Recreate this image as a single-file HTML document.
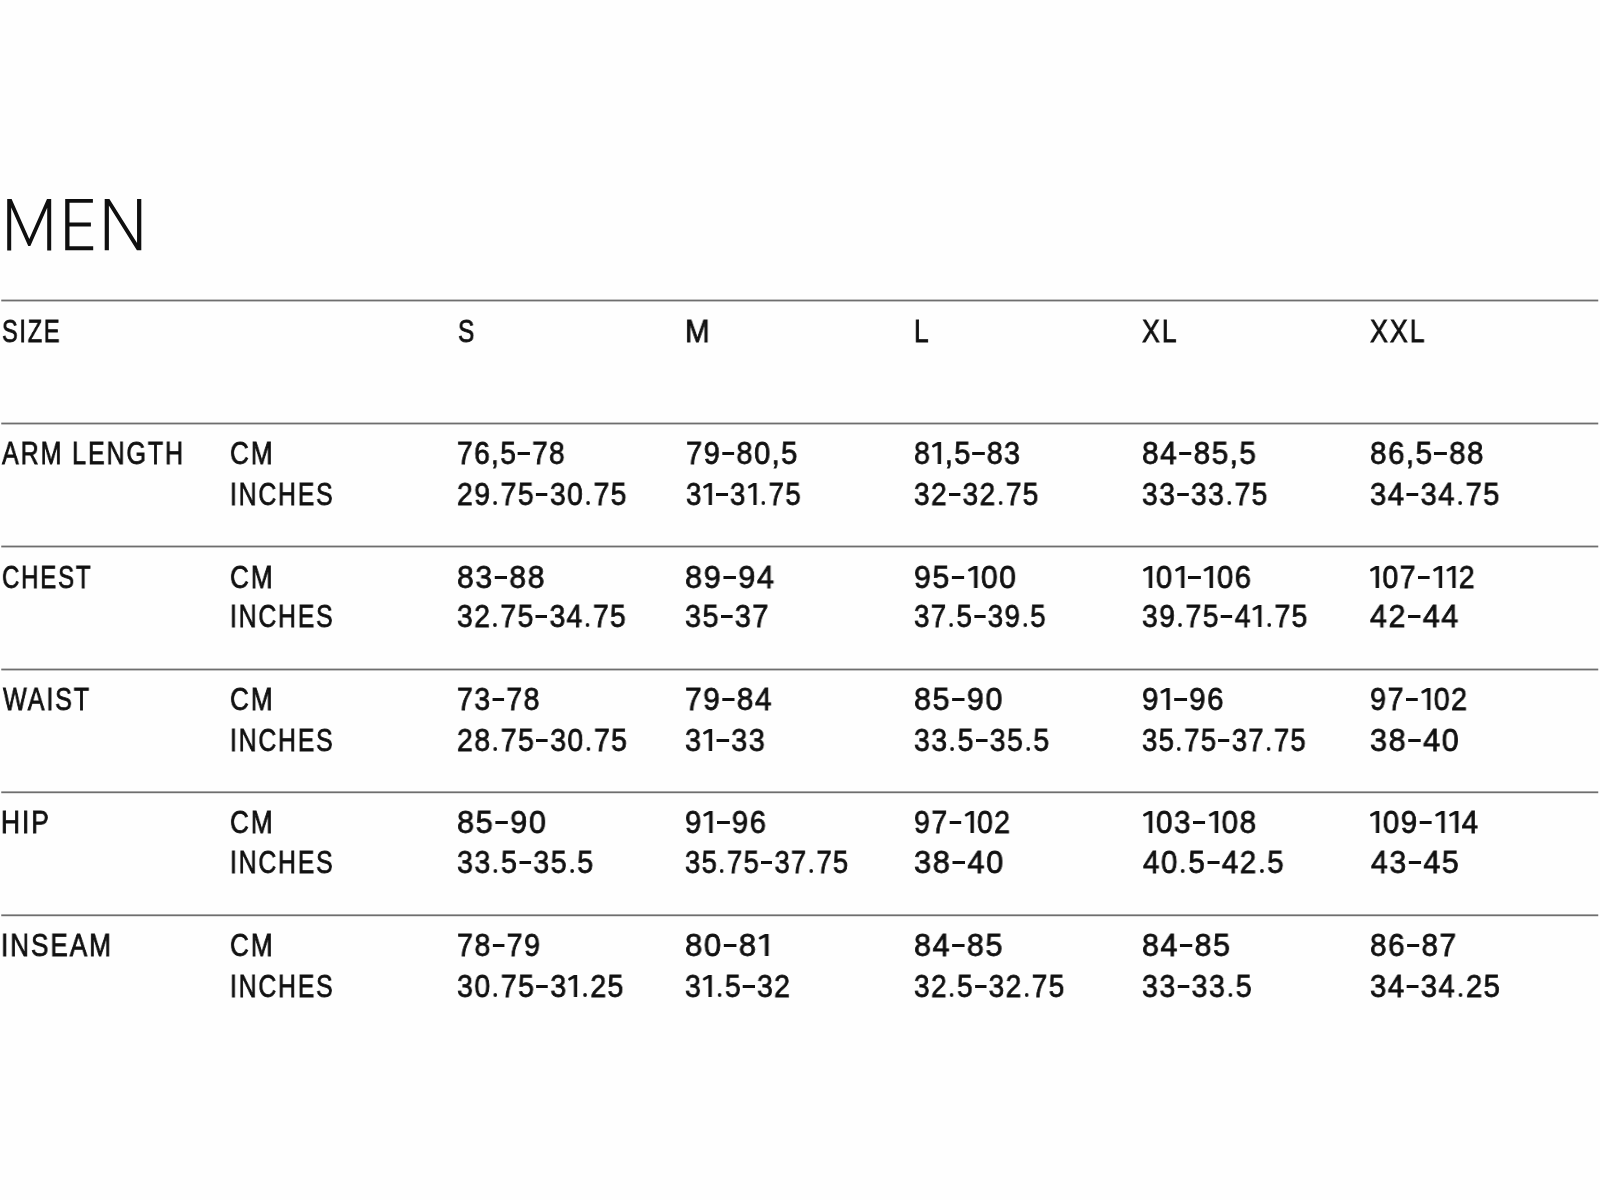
<!DOCTYPE html>
<html><head><meta charset="utf-8"><title>Men size chart</title><style>
html,body{margin:0;padding:0;background:#fefefe;width:1600px;height:1200px;overflow:hidden}
body{position:relative}
.t{position:absolute;white-space:nowrap;font-family:"Liberation Sans",sans-serif;font-size:32px;line-height:32px;color:#111;transform-origin:0 0;-webkit-text-stroke:0.8px currentColor;will-change:transform}
.d{display:inline-block;width:13.6px;height:3px;background:currentColor;margin:0 2.4px 0 0.8px;vertical-align:9.2px}
.o{display:inline-block;width:15.1px;height:22.6px;vertical-align:-0.4px}.o svg{display:block;fill:currentColor}.p{display:inline-block;position:relative;width:10.5px;height:4px;vertical-align:-0.3px}.p::before{content:'';position:absolute;left:2.3px;top:0;width:4.3px;height:4.1px;border-radius:50%;background:currentColor}
.a{letter-spacing:2.4px}.n{letter-spacing:1.6px}
</style></head><body>
<svg width="1600" height="1200" viewBox="0 0 1600 1200" style="position:absolute;left:0;top:0"><g fill="#0f0f0f"><polygon points="7.2,250.4 7.2,198.9 11.6,198.9 29.3,238.9 47.0,198.9 51.2,198.9 51.2,250.4 47.2,250.4 47.2,207.8 30.35,245.9 28.25,245.9 11.2,207.4 11.2,250.4"/><polygon points="65.2,250.2 65.2,198.9 92.9,198.9 92.9,202.8 69.5,202.8 69.5,222.4 90.9,222.4 90.9,226.4 69.5,226.4 69.5,246.2 93.2,246.2 93.2,250.2"/><polygon points="104.7,250.2 104.7,198.9 109.4,198.9 137.05,243.0 137.05,198.9 141.3,198.9 141.3,250.2 136.9,250.2 108.9,205.6 108.9,250.2"/></g><g fill="#6e6e6e"><rect x="1.25" y="299.60" width="1597" height="1.8"/><rect x="1.25" y="422.60" width="1597" height="1.8"/><rect x="1.25" y="545.60" width="1597" height="1.8"/><rect x="1.25" y="668.60" width="1597" height="1.8"/><rect x="1.25" y="791.40" width="1597" height="1.8"/><rect x="1.25" y="914.40" width="1597" height="1.8"/></g></svg>
<div class="t a" style="left:2.39px;top:314.74px;transform:scaleX(0.7349)">SIZE</div>
<div class="t a" style="left:458.11px;top:314.74px;transform:scaleX(0.7659)">S</div>
<div class="t a" style="left:685.01px;top:314.74px;transform:scaleX(0.9243)">M</div>
<div class="t a" style="left:913.82px;top:314.74px;transform:scaleX(0.8277)">L</div>
<div class="t a" style="left:1141.93px;top:314.74px;transform:scaleX(0.8328)">XL</div>
<div class="t a" style="left:1370.13px;top:314.74px;transform:scaleX(0.8356)">XXL</div>
<div class="t a" style="left:2.07px;top:436.79px;transform:scaleX(0.7830)">ARM LENGTH</div>
<div class="t a" style="left:230.05px;top:436.79px;transform:scaleX(0.8163)">CM</div>
<div class="t a" style="left:229.64px;top:478.19px;transform:scaleX(0.7728)">INCHES</div>
<div class="t n" style="left:456.97px;top:436.79px;transform:scaleX(0.8781)">76,5<span class="d"></span>78</div>
<div class="t n" style="left:456.99px;top:478.19px;transform:scaleX(0.8855)">29<span class="p"></span>75<span class="d"></span>30<span class="p"></span>75</div>
<div class="t n" style="left:685.84px;top:436.79px;transform:scaleX(0.9078)">79<span class="d"></span>80,5</div>
<div class="t n" style="left:686.12px;top:478.19px;transform:scaleX(0.8587)">3<span class="o"><svg width="15.1" height="22.6" viewBox="0 0 15.1 22.6"><polygon points="7.45,3.3 2.4,5.8 1.0,4.4 1.54,3.1 7.45,0 11.2,0 11.2,22.6 7.45,22.6"/></svg></span><span class="d"></span>3<span class="o"><svg width="15.1" height="22.6" viewBox="0 0 15.1 22.6"><polygon points="7.45,3.3 2.4,5.8 1.0,4.4 1.54,3.1 7.45,0 11.2,0 11.2,22.6 7.45,22.6"/></svg></span><span class="p"></span>75</div>
<div class="t n" style="left:914.02px;top:436.79px;transform:scaleX(0.8956)">8<span class="o"><svg width="15.1" height="22.6" viewBox="0 0 15.1 22.6"><polygon points="7.45,3.3 2.4,5.8 1.0,4.4 1.54,3.1 7.45,0 11.2,0 11.2,22.6 7.45,22.6"/></svg></span>,5<span class="d"></span>83</div>
<div class="t n" style="left:914.21px;top:478.19px;transform:scaleX(0.8748)">32<span class="d"></span>32<span class="p"></span>75</div>
<div class="t n" style="left:1141.98px;top:436.79px;transform:scaleX(0.9293)">84<span class="d"></span>85,5</div>
<div class="t n" style="left:1142.20px;top:478.19px;transform:scaleX(0.8819)">33<span class="d"></span>33<span class="p"></span>75</div>
<div class="t n" style="left:1369.98px;top:436.79px;transform:scaleX(0.9257)">86,5<span class="d"></span>88</div>
<div class="t n" style="left:1370.18px;top:478.19px;transform:scaleX(0.9105)">34<span class="d"></span>34<span class="p"></span>75</div>
<div class="t a" style="left:1.63px;top:560.59px;transform:scaleX(0.7503)">CHEST</div>
<div class="t a" style="left:230.05px;top:560.59px;transform:scaleX(0.8163)">CM</div>
<div class="t a" style="left:229.64px;top:600.39px;transform:scaleX(0.7728)">INCHES</div>
<div class="t n" style="left:456.97px;top:560.59px;transform:scaleX(0.9424)">83<span class="d"></span>88</div>
<div class="t n" style="left:457.20px;top:600.39px;transform:scaleX(0.8817)">32<span class="p"></span>75<span class="d"></span>34<span class="p"></span>75</div>
<div class="t n" style="left:684.95px;top:560.59px;transform:scaleX(0.9598)">89<span class="d"></span>94</div>
<div class="t n" style="left:685.19px;top:600.39px;transform:scaleX(0.8981)">35<span class="d"></span>37</div>
<div class="t n" style="left:913.94px;top:560.59px;transform:scaleX(0.9455)">95<span class="d"></span><span class="o"><svg width="15.1" height="22.6" viewBox="0 0 15.1 22.6"><polygon points="7.45,3.3 2.4,5.8 1.0,4.4 1.54,3.1 7.45,0 11.2,0 11.2,22.6 7.45,22.6"/></svg></span>00</div>
<div class="t n" style="left:914.22px;top:600.39px;transform:scaleX(0.8626)">37<span class="p"></span>5<span class="d"></span>39<span class="p"></span>5</div>
<div class="t n" style="left:1141.94px;top:560.59px;transform:scaleX(0.9194)"><span class="o"><svg width="15.1" height="22.6" viewBox="0 0 15.1 22.6"><polygon points="7.45,3.3 2.4,5.8 1.0,4.4 1.54,3.1 7.45,0 11.2,0 11.2,22.6 7.45,22.6"/></svg></span>0<span class="o"><svg width="15.1" height="22.6" viewBox="0 0 15.1 22.6"><polygon points="7.45,3.3 2.4,5.8 1.0,4.4 1.54,3.1 7.45,0 11.2,0 11.2,22.6 7.45,22.6"/></svg></span><span class="d"></span><span class="o"><svg width="15.1" height="22.6" viewBox="0 0 15.1 22.6"><polygon points="7.45,3.3 2.4,5.8 1.0,4.4 1.54,3.1 7.45,0 11.2,0 11.2,22.6 7.45,22.6"/></svg></span>06</div>
<div class="t n" style="left:1142.20px;top:600.39px;transform:scaleX(0.8836)">39<span class="p"></span>75<span class="d"></span>4<span class="o"><svg width="15.1" height="22.6" viewBox="0 0 15.1 22.6"><polygon points="7.45,3.3 2.4,5.8 1.0,4.4 1.54,3.1 7.45,0 11.2,0 11.2,22.6 7.45,22.6"/></svg></span><span class="p"></span>75</div>
<div class="t n" style="left:1368.98px;top:560.59px;transform:scaleX(0.8908)"><span class="o"><svg width="15.1" height="22.6" viewBox="0 0 15.1 22.6"><polygon points="7.45,3.3 2.4,5.8 1.0,4.4 1.54,3.1 7.45,0 11.2,0 11.2,22.6 7.45,22.6"/></svg></span>07<span class="d"></span><span class="o"><svg width="15.1" height="22.6" viewBox="0 0 15.1 22.6"><polygon points="7.45,3.3 2.4,5.8 1.0,4.4 1.54,3.1 7.45,0 11.2,0 11.2,22.6 7.45,22.6"/></svg></span><span class="o"><svg width="15.1" height="22.6" viewBox="0 0 15.1 22.6"><polygon points="7.45,3.3 2.4,5.8 1.0,4.4 1.54,3.1 7.45,0 11.2,0 11.2,22.6 7.45,22.6"/></svg></span>2</div>
<div class="t n" style="left:1369.75px;top:600.39px;transform:scaleX(0.9511)">42<span class="d"></span>44</div>
<div class="t a" style="left:3.13px;top:683.19px;transform:scaleX(0.7843)">WAIST</div>
<div class="t a" style="left:230.05px;top:683.19px;transform:scaleX(0.8163)">CM</div>
<div class="t a" style="left:229.64px;top:723.59px;transform:scaleX(0.7728)">INCHES</div>
<div class="t n" style="left:456.96px;top:683.19px;transform:scaleX(0.8880)">73<span class="d"></span>78</div>
<div class="t n" style="left:456.98px;top:723.59px;transform:scaleX(0.8881)">28<span class="p"></span>75<span class="d"></span>30<span class="p"></span>75</div>
<div class="t n" style="left:684.91px;top:683.19px;transform:scaleX(0.9331)">79<span class="d"></span>84</div>
<div class="t n" style="left:685.18px;top:723.59px;transform:scaleX(0.9008)">3<span class="o"><svg width="15.1" height="22.6" viewBox="0 0 15.1 22.6"><polygon points="7.45,3.3 2.4,5.8 1.0,4.4 1.54,3.1 7.45,0 11.2,0 11.2,22.6 7.45,22.6"/></svg></span><span class="d"></span>33</div>
<div class="t n" style="left:913.95px;top:683.19px;transform:scaleX(0.9528)">85<span class="d"></span>90</div>
<div class="t n" style="left:914.20px;top:723.59px;transform:scaleX(0.8858)">33<span class="p"></span>5<span class="d"></span>35<span class="p"></span>5</div>
<div class="t n" style="left:1141.97px;top:683.19px;transform:scaleX(0.9201)">9<span class="o"><svg width="15.1" height="22.6" viewBox="0 0 15.1 22.6"><polygon points="7.45,3.3 2.4,5.8 1.0,4.4 1.54,3.1 7.45,0 11.2,0 11.2,22.6 7.45,22.6"/></svg></span><span class="d"></span>96</div>
<div class="t n" style="left:1142.23px;top:723.59px;transform:scaleX(0.8553)">35<span class="p"></span>75<span class="d"></span>37<span class="p"></span>75</div>
<div class="t n" style="left:1369.99px;top:683.19px;transform:scaleX(0.9002)">97<span class="d"></span><span class="o"><svg width="15.1" height="22.6" viewBox="0 0 15.1 22.6"><polygon points="7.45,3.3 2.4,5.8 1.0,4.4 1.54,3.1 7.45,0 11.2,0 11.2,22.6 7.45,22.6"/></svg></span>02</div>
<div class="t n" style="left:1370.13px;top:723.59px;transform:scaleX(0.9562)">38<span class="d"></span>40</div>
<div class="t a" style="left:1.23px;top:806.39px;transform:scaleX(0.8229)">HIP</div>
<div class="t a" style="left:230.05px;top:806.39px;transform:scaleX(0.8163)">CM</div>
<div class="t a" style="left:229.64px;top:846.39px;transform:scaleX(0.7728)">INCHES</div>
<div class="t n" style="left:456.95px;top:806.39px;transform:scaleX(0.9583)">85<span class="d"></span>90</div>
<div class="t n" style="left:457.19px;top:846.39px;transform:scaleX(0.8924)">33<span class="p"></span>5<span class="d"></span>35<span class="p"></span>5</div>
<div class="t n" style="left:684.97px;top:806.39px;transform:scaleX(0.9143)">9<span class="o"><svg width="15.1" height="22.6" viewBox="0 0 15.1 22.6"><polygon points="7.45,3.3 2.4,5.8 1.0,4.4 1.54,3.1 7.45,0 11.2,0 11.2,22.6 7.45,22.6"/></svg></span><span class="d"></span>96</div>
<div class="t n" style="left:685.23px;top:846.39px;transform:scaleX(0.8527)">35<span class="p"></span>75<span class="d"></span>37<span class="p"></span>75</div>
<div class="t n" style="left:914.00px;top:806.39px;transform:scaleX(0.8907)">97<span class="d"></span><span class="o"><svg width="15.1" height="22.6" viewBox="0 0 15.1 22.6"><polygon points="7.45,3.3 2.4,5.8 1.0,4.4 1.54,3.1 7.45,0 11.2,0 11.2,22.6 7.45,22.6"/></svg></span>02</div>
<div class="t n" style="left:914.13px;top:846.39px;transform:scaleX(0.9617)">38<span class="d"></span>40</div>
<div class="t n" style="left:1141.93px;top:806.39px;transform:scaleX(0.9275)"><span class="o"><svg width="15.1" height="22.6" viewBox="0 0 15.1 22.6"><polygon points="7.45,3.3 2.4,5.8 1.0,4.4 1.54,3.1 7.45,0 11.2,0 11.2,22.6 7.45,22.6"/></svg></span>03<span class="d"></span><span class="o"><svg width="15.1" height="22.6" viewBox="0 0 15.1 22.6"><polygon points="7.45,3.3 2.4,5.8 1.0,4.4 1.54,3.1 7.45,0 11.2,0 11.2,22.6 7.45,22.6"/></svg></span>08</div>
<div class="t n" style="left:1142.76px;top:846.39px;transform:scaleX(0.9217)">40<span class="p"></span>5<span class="d"></span>42<span class="p"></span>5</div>
<div class="t n" style="left:1368.94px;top:806.39px;transform:scaleX(0.9204)"><span class="o"><svg width="15.1" height="22.6" viewBox="0 0 15.1 22.6"><polygon points="7.45,3.3 2.4,5.8 1.0,4.4 1.54,3.1 7.45,0 11.2,0 11.2,22.6 7.45,22.6"/></svg></span>09<span class="d"></span><span class="o"><svg width="15.1" height="22.6" viewBox="0 0 15.1 22.6"><polygon points="7.45,3.3 2.4,5.8 1.0,4.4 1.54,3.1 7.45,0 11.2,0 11.2,22.6 7.45,22.6"/></svg></span><span class="o"><svg width="15.1" height="22.6" viewBox="0 0 15.1 22.6"><polygon points="7.45,3.3 2.4,5.8 1.0,4.4 1.54,3.1 7.45,0 11.2,0 11.2,22.6 7.45,22.6"/></svg></span>4</div>
<div class="t n" style="left:1370.75px;top:846.39px;transform:scaleX(0.9442)">43<span class="d"></span>45</div>
<div class="t a" style="left:0.93px;top:928.79px;transform:scaleX(0.8160)">INSEAM</div>
<div class="t a" style="left:230.05px;top:928.79px;transform:scaleX(0.8163)">CM</div>
<div class="t a" style="left:229.64px;top:969.59px;transform:scaleX(0.7728)">INCHES</div>
<div class="t n" style="left:456.95px;top:928.79px;transform:scaleX(0.8945)">78<span class="d"></span>79</div>
<div class="t n" style="left:457.19px;top:969.59px;transform:scaleX(0.8890)">30<span class="p"></span>75<span class="d"></span>3<span class="o"><svg width="15.1" height="22.6" viewBox="0 0 15.1 22.6"><polygon points="7.45,3.3 2.4,5.8 1.0,4.4 1.54,3.1 7.45,0 11.2,0 11.2,22.6 7.45,22.6"/></svg></span><span class="p"></span>25</div>
<div class="t n" style="left:684.94px;top:928.79px;transform:scaleX(0.9695)">80<span class="d"></span>8<span class="o"><svg width="15.1" height="22.6" viewBox="0 0 15.1 22.6"><polygon points="7.45,3.3 2.4,5.8 1.0,4.4 1.54,3.1 7.45,0 11.2,0 11.2,22.6 7.45,22.6"/></svg></span></div>
<div class="t n" style="left:685.20px;top:969.59px;transform:scaleX(0.8866)">3<span class="o"><svg width="15.1" height="22.6" viewBox="0 0 15.1 22.6"><polygon points="7.45,3.3 2.4,5.8 1.0,4.4 1.54,3.1 7.45,0 11.2,0 11.2,22.6 7.45,22.6"/></svg></span><span class="p"></span>5<span class="d"></span>32</div>
<div class="t n" style="left:913.95px;top:928.79px;transform:scaleX(0.9529)">84<span class="d"></span>85</div>
<div class="t n" style="left:914.21px;top:969.59px;transform:scaleX(0.8733)">32<span class="p"></span>5<span class="d"></span>32<span class="p"></span>75</div>
<div class="t n" style="left:1141.96px;top:928.79px;transform:scaleX(0.9474)">84<span class="d"></span>85</div>
<div class="t n" style="left:1142.19px;top:969.59px;transform:scaleX(0.8928)">33<span class="d"></span>33<span class="p"></span>5</div>
<div class="t n" style="left:1369.98px;top:928.79px;transform:scaleX(0.9276)">86<span class="d"></span>87</div>
<div class="t n" style="left:1370.17px;top:969.59px;transform:scaleX(0.9141)">34<span class="d"></span>34<span class="p"></span>25</div>
</body></html>
